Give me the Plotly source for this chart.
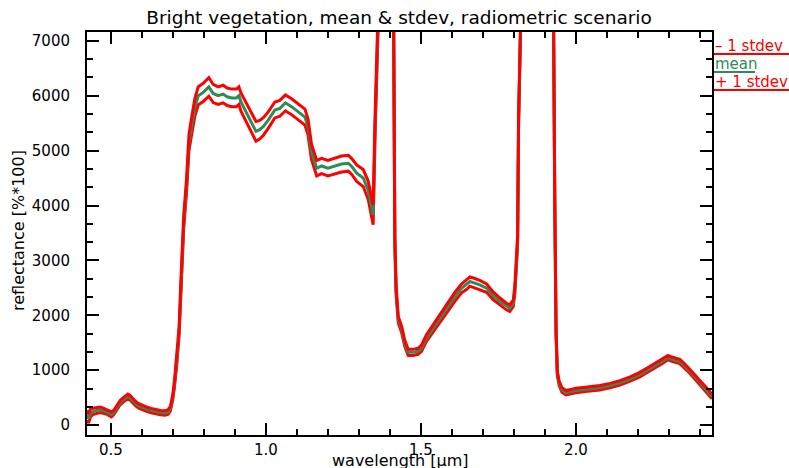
import plotly.graph_objects as go

# Bright vegetation spectrum: mean reflectance and one standard deviation (reflectance in %*100)
wavelength = [
    0.423, 0.428, 0.435, 0.442, 0.450, 0.458, 0.465, 0.472, 0.480, 0.488,
    0.495, 0.502, 0.510, 0.520, 0.530, 0.540, 0.548, 0.555, 0.562, 0.570,
    0.580, 0.590, 0.600, 0.615, 0.630, 0.645, 0.660, 0.675, 0.685, 0.692,
    0.700, 0.705, 0.712, 0.720, 0.727, 0.735, 0.744, 0.752, 0.760, 0.771,
    0.782, 0.798, 0.816, 0.830, 0.846, 0.862, 0.875, 0.890, 0.905, 0.913,
    0.920, 0.938, 0.954, 0.968, 0.980, 0.992, 1.007, 1.029, 1.045, 1.063,
    1.083, 1.104, 1.126, 1.136, 1.147, 1.164, 1.180, 1.200, 1.222, 1.244,
    1.266, 1.277, 1.293, 1.314, 1.330, 1.339, 1.346, 1.352, 1.357, 1.362,
    1.380, 1.400, 1.410, 1.413, 1.416, 1.420, 1.427, 1.438, 1.448, 1.459,
    1.475, 1.491, 1.502, 1.518, 1.540, 1.567, 1.588, 1.610, 1.631, 1.647,
    1.658, 1.674, 1.690, 1.712, 1.733, 1.755, 1.776, 1.787, 1.798, 1.803,
    1.809, 1.812, 1.815, 1.818, 1.850, 1.900, 1.926, 1.932, 1.936, 1.940,
    1.946, 1.955, 1.968, 1.984, 2.000, 2.030, 2.077, 2.110, 2.142, 2.175,
    2.206, 2.230, 2.255, 2.275, 2.297, 2.310, 2.335, 2.350, 2.368, 2.385,
    2.400, 2.416, 2.428, 2.439,
]

mean_refl = [
    180, 120, 230, 250, 260, 275, 280, 270, 255, 240,
    215, 195, 235, 320, 410, 460, 500, 525, 500, 450,
    390, 350, 320, 290, 265, 245, 228, 222, 240, 300,
    520, 750, 1130, 1700, 2700, 3700, 4350, 5150, 5430, 5790,
    6000, 6060, 6160, 6040, 6000, 6030, 5980, 5960, 5960, 6000,
    5880, 5680, 5520, 5350, 5380, 5440, 5550, 5740, 5770, 5870,
    5800, 5710, 5610, 5430, 4980, 4680, 4720, 4680, 4720, 4755,
    4770, 4710, 4590, 4500, 4280, 4050, 3830, 5400, 6800, 9500,
    15000, 15000, 9500, 4850, 3350, 2460, 1920, 1740, 1490, 1325,
    1325, 1345, 1400, 1585, 1770, 1980, 2160, 2340, 2490, 2555,
    2615, 2585, 2555, 2495, 2355, 2250, 2160, 2130, 2220, 2460,
    3000, 3380, 5500, 9000, 15000, 15000, 9000, 4000, 1700, 950,
    760, 640, 590, 610, 630, 650, 680, 720, 770, 840,
    920, 1000, 1080, 1150, 1230, 1200, 1160, 1080, 980, 870,
    770, 680, 600, 520,
]

stdev_refl = [
    90, 80, 70, 60, 55, 50, 50, 50, 45, 45,
    45, 45, 40, 40, 40, 40, 40, 40, 40, 40,
    40, 40, 40, 40, 40, 40, 40, 40, 40, 40,
    50, 60, 70, 80, 100, 120, 130, 150, 155, 160,
    165, 165, 170, 165, 160, 160, 160, 160, 160, 160,
    165, 170, 175, 180, 170, 160, 150, 145, 145, 145,
    145, 145, 145, 145, 140, 140, 140, 140, 140, 145,
    145, 145, 150, 155, 165, 170, 180, 180, 180, 180,
    180, 180, 120, 100, 80, 70, 60, 60, 55, 55,
    55, 55, 55, 60, 65, 70, 75, 80, 80, 85,
    85, 85, 80, 75, 70, 65, 60, 60, 60, 70,
    80, 80, 80, 80, 80, 80, 60, 50, 45, 40,
    40, 40, 40, 40, 40, 40, 40, 40, 40, 40,
    40, 40, 40, 40, 40, 40, 40, 40, 40, 40,
    40, 40, 40, 40,
]

minus_sd = [m - s for m, s in zip(mean_refl, stdev_refl)]
plus_sd = [m + s for m, s in zip(mean_refl, stdev_refl)]

RED = "#FF0000"
GREEN = "#2E8B57"
FONT = "DejaVu Sans"

fig = go.Figure()
fig.add_trace(go.Scatter(x=wavelength, y=minus_sd, mode="lines",
                         line=dict(color=RED, width=3), name="- 1 stdev"))
fig.add_trace(go.Scatter(x=wavelength, y=mean_refl, mode="lines",
                         line=dict(color=GREEN, width=3), name="mean"))
fig.add_trace(go.Scatter(x=wavelength, y=plus_sd, mode="lines",
                         line=dict(color=RED, width=3), name="+ 1 stdev"))

# plot box in pixels
L, R, T, B = 87, 712, 32, 435
W, H = 789, 468


def px(x):
    return (x - L) / (R - L)


def py(y):
    return (B - y) / (B - T)


axis_common = dict(
    showgrid=False, zeroline=False, showline=True, linecolor="black", linewidth=2,
    mirror="allticks", ticks="inside", ticklen=12, tickwidth=2, tickcolor="black",
    tickfont=dict(family=FONT, size=15, color="black"), automargin=False,
)

fig.update_layout(
    width=W, height=H,
    margin=dict(l=L, r=W - R, t=T, b=H - B, autoexpand=False),
    paper_bgcolor="white", plot_bgcolor="white",
    showlegend=False,
    font=dict(family=FONT, color="black"),
    title=dict(text="Bright vegetation, mean & stdev, radiometric scenario",
               x=399 / W, xanchor="center", xref="container",
               y=1 - 18 / H, yanchor="middle", yref="container",
               font=dict(family=FONT, size=18.5, color="black")),
    xaxis=dict(
        range=[0.423, 2.439], tick0=0.5, dtick=0.5, tickformat=".1f",
        minor=dict(dtick=0.1, tick0=0.5, ticks="inside", ticklen=6, tickwidth=2,
                   tickcolor="black"),
        ticklabelstandoff=0,
        **axis_common,
    ),
    yaxis=dict(
        range=[-180, 7160], tick0=0, dtick=1000,
        minor=dict(dtick=1000 / 3, tick0=0, ticks="inside", ticklen=6, tickwidth=2,
                   tickcolor="black"),
        ticklabelstandoff=12,
        **axis_common,
    ),
)

# axis titles
fig.add_annotation(text="wavelength [μm]", xref="paper", yref="paper",
                   x=px(400), y=py(460), xanchor="center", yanchor="middle",
                   showarrow=False, font=dict(family=FONT, size=16, color="black"))
fig.add_annotation(text="reflectance [%*100]", xref="paper", yref="paper",
                   x=px(18), y=py(231), xanchor="center", yanchor="middle",
                   textangle=-90, showarrow=False,
                   font=dict(family=FONT, size=16, color="black"))

# legend text with underlines, right of the plot box
legend_items = [
    ("– 1 stdev", RED, 46, 54, 789),
    ("mean", GREEN, 64, 72, 755),
    ("+ 1 stdev", RED, 82, 90, 789),
]
for label, color, yc, yu, xend in legend_items:
    fig.add_annotation(text=label, xref="paper", yref="paper",
                       x=px(713), y=py(yc), xanchor="left", yanchor="middle",
                       showarrow=False,
                       font=dict(family=FONT, size=15, color=color))
    fig.add_shape(type="line", xref="paper", yref="paper",
                  x0=px(714), x1=px(xend), y0=py(yu), y1=py(yu),
                  line=dict(color=color, width=2))

fig.write_html("out.html")
